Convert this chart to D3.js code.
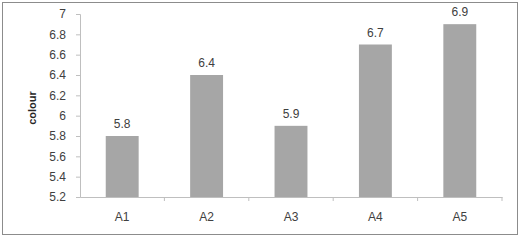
<!doctype html>
<html lang="en">
<head>
<meta charset="UTF-8" />
<title>colour</title>
<style>
  body { margin: 0; font-family: 'Liberation Sans', Arial, sans-serif; background: #fff; }
  .tick text { font-size: 12px; fill: #404040; }
  .val { font-size: 12px; fill: #404040; }
</style>
<script src="https://d3js.org/d3.v7.min.js"></script>
</head>
<body>
<div id="chart-container"></div>
<script>
var categories = ['A1', 'A2', 'A3', 'A4', 'A5'];
var values = [5.8, 6.4, 5.9, 6.7, 6.9];
var yTicks = [5.2, 5.4, 5.6, 5.8, 6, 6.2, 6.4, 6.6, 6.8, 7];

var canvasWidth = 522;
var canvasHeight = 240;
var margin = { top: 14, right: 20, bottom: 43, left: 80 };
var width = canvasWidth - margin.left - margin.right;
var height = canvasHeight - margin.top - margin.bottom;

var svg = d3.select('#chart-container')
  .append('svg')
  .attr('width', canvasWidth)
  .attr('height', canvasHeight);

// outer frame
svg.append('rect')
  .attr('x', 2.5).attr('y', 2.5)
  .attr('width', 515).attr('height', 232)
  .attr('fill', 'none')
  .attr('stroke', '#8c8c8c');

var g = svg.append('g')
  .attr('transform', 'translate(' + margin.left + ',' + margin.top + ')');

var xScale = d3.scaleBand().domain(categories).range([0, width]).paddingInner(0).paddingOuter(0);
var yScale = d3.scaleLinear().domain([5.2, 7]).range([height, 0]);

// y axis
var yAxis = g.append('g')
  .call(d3.axisLeft(yScale).tickValues(yTicks).tickSize(4).tickPadding(10).tickFormat(d3.format('')));
yAxis.selectAll('path, line').attr('stroke', '#bfbfbf');

// bars
var bw = xScale.bandwidth() * 0.39;
g.selectAll('.bar')
  .data(values)
  .enter()
  .append('rect')
  .attr('class', 'bar')
  .attr('x', function (d, i) { return xScale(categories[i]) + (xScale.bandwidth() - bw) / 2; })
  .attr('y', function (d) { return yScale(d); })
  .attr('width', bw)
  .attr('height', function (d) { return height - yScale(d); })
  .attr('fill', '#a6a6a6');

// value labels
g.selectAll('.val')
  .data(values)
  .enter()
  .append('text')
  .attr('class', 'val')
  .attr('x', function (d, i) { return xScale(categories[i]) + xScale.bandwidth() / 2; })
  .attr('y', function (d) { return yScale(d) - 8; })
  .attr('text-anchor', 'middle')
  .text(function (d) { return d; });

// x axis with ticks at category boundaries
var xAxis = g.append('g')
  .attr('transform', 'translate(0,' + height + ')')
  .call(d3.axisBottom(xScale).tickSize(0).tickPadding(15));
xAxis.select('.domain').attr('stroke', '#bfbfbf');
xAxis.selectAll('.bound')
  .data(categories)
  .enter()
  .append('line')
  .attr('class', 'bound')
  .attr('x1', function (d) { return xScale(d) + xScale.bandwidth(); })
  .attr('x2', function (d) { return xScale(d) + xScale.bandwidth(); })
  .attr('y1', 0).attr('y2', 4)
  .attr('stroke', '#bfbfbf');

// y label
svg.append('text')
  .attr('transform', 'translate(36,' + 108 + ') rotate(-90)')
  .attr('text-anchor', 'middle')
  .attr('font-size', '11px')
  .attr('font-weight', 'bold')
  .attr('fill', '#262626')
  .text('colour');
</script>
</body>
</html>
